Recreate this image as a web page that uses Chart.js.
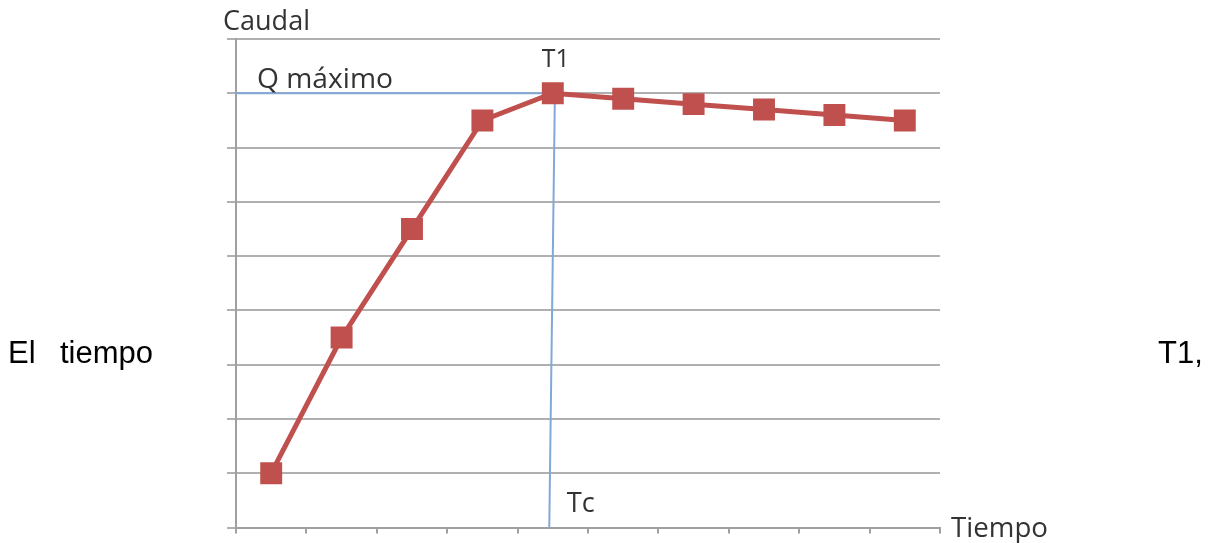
<!DOCTYPE html>
<html>
<head>
<meta charset="utf-8">
<script src="https://cdn.jsdelivr.net/npm/chart.js@4.4.1/dist/chart.umd.min.js"></script>
<style>
html,body{margin:0;padding:0;background:#fff;width:1214px;height:543px;overflow:hidden;}
canvas{display:block;}
</style>
</head>
<body>
<canvas id="c" width="1214" height="543"></canvas>
<script>
// ---- data ----
const categories = ['1','2','3','4','5','6','7','8','9','10'];
const caudal = [1.0, 3.5, 5.5, 7.5, 8.0, 7.9, 7.8, 7.7, 7.6, 7.5];
const yMin = 0;
const yMax = 9;
const yStep = 1;
const qMaximo = 8;      // Q máximo level
const t1Index = 4;      // index of T1 (peak)
const yTitle = 'Caudal';
const xTitle = 'Tiempo';
const qLabel = 'Q máximo';
const t1Label = 'T1';
const tcLabel = 'Tc';
const bodyLeft = ['El', 'tiempo'];
const bodyRight = 'T1,';

// ---- styling / layout ----
const RED = '#C0504D';
const BLUE = '#82a8d8';
const GRID = '#b0b0b0';
const AXIS = '#a0a0a0';
const LABEL_COLOR = '#333333';
const CHART_FONT = '"Open Sans", "Noto Sans", sans-serif';
const BODY_FONT = '"Liberation Sans", Arial, sans-serif';

function fitText(ctx, text, left, baseline, width, family, color) {
  ctx.font = '100px ' + family;
  const w = ctx.measureText(text).width;
  const size = 100 * width / w;
  ctx.font = size.toFixed(2) + 'px ' + family;
  ctx.fillStyle = color;
  ctx.textAlign = 'left';
  ctx.textBaseline = 'alphabetic';
  ctx.fillText(text, left, baseline);
}

const annotations = {
  id: 'annotations',
  beforeDatasetsDraw(chart) {
    const {ctx, chartArea, scales: {x, y}} = chart;
    const yq = y.getPixelForValue(qMaximo);
    ctx.save();
    ctx.strokeStyle = BLUE;
    ctx.lineWidth = 2;
    ctx.beginPath();
    ctx.moveTo(chartArea.left, yq);
    ctx.lineTo(x.getPixelForValue(t1Index), yq);
    ctx.moveTo(x.getPixelForValue(t1Index + 0.03), yq);
    ctx.lineTo(x.getPixelForValue(t1Index - 0.05), y.getPixelForValue(yMin));
    ctx.stroke();
    ctx.restore();
  },
  afterDraw(chart) {
    const {ctx, chartArea, scales: {x, y}} = chart;
    ctx.save();
    const yq = y.getPixelForValue(qMaximo);
    const xt = x.getPixelForValue(t1Index);
    fitText(ctx, yTitle, chartArea.left - 13, chartArea.top - 9, 87, CHART_FONT, LABEL_COLOR);
    fitText(ctx, qLabel, chartArea.left + 21, yq - 5, 136, CHART_FONT, LABEL_COLOR);
    fitText(ctx, t1Label, xt - 11, chartArea.top + 28, 28, CHART_FONT, LABEL_COLOR);
    fitText(ctx, tcLabel, xt + 14, chartArea.bottom - 16, 28, CHART_FONT, LABEL_COLOR);
    fitText(ctx, xTitle, chartArea.right + 11, chartArea.bottom + 9, 97, CHART_FONT, LABEL_COLOR);
    ctx.font = '31px ' + BODY_FONT;
    ctx.fillStyle = '#000';
    ctx.textBaseline = 'alphabetic';
    ctx.textAlign = 'left';
    ctx.fillText(bodyLeft[0], 8, 363);
    ctx.fillText(bodyLeft[1], 60, 363);
    ctx.fillText(bodyRight, 1158, 363);
    ctx.restore();
  }
};

new Chart(document.getElementById('c'), {
  type: 'line',
  data: {
    labels: categories,
    datasets: [{
      data: caudal,
      borderColor: RED,
      backgroundColor: RED,
      borderWidth: 5,
      tension: 0,
      pointStyle: 'rect',
      pointRadius: 15.5,
      pointHoverRadius: 15.5,
      pointBorderWidth: 0,
      pointBackgroundColor: RED
    }]
  },
  options: {
    responsive: false,
    animation: false,
    devicePixelRatio: 1,
    events: [],
    layout: {padding: {left: 227, right: 274, top: 39, bottom: 9}},
    plugins: {legend: {display: false}, tooltip: {enabled: false}, title: {display: false}},
    scales: {
      x: {
        offset: true,
        grid: {offset: true, drawOnChartArea: false, drawTicks: true, tickLength: 6, color: AXIS, lineWidth: 2},
        border: {display: true, color: AXIS, width: 2},
        ticks: {display: false}
      },
      y: {
        min: yMin, max: yMax,
        ticks: {display: false, stepSize: yStep},
        grid: {color: GRID, lineWidth: 2, drawTicks: true, tickLength: 9},
        border: {display: true, color: AXIS, width: 2}
      }
    }
  },
  plugins: [annotations]
});
</script>
</body>
</html>
